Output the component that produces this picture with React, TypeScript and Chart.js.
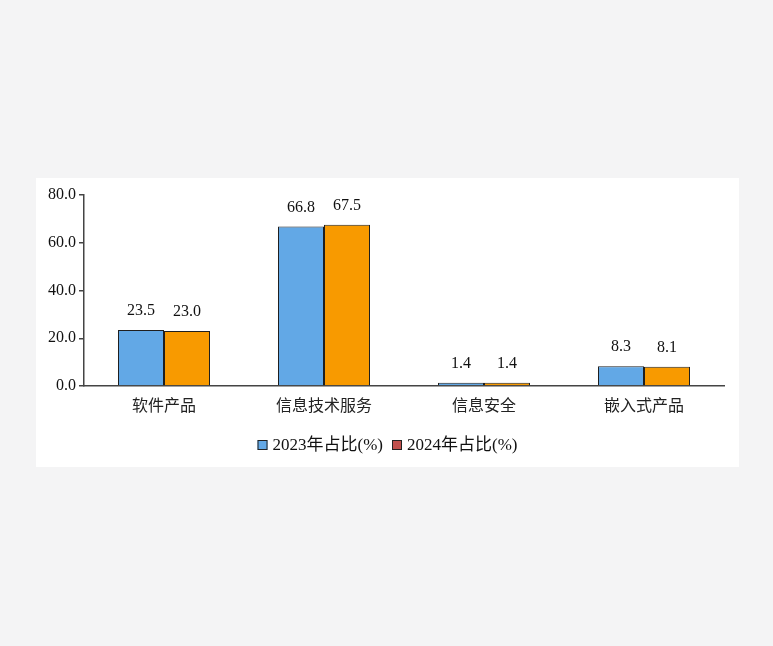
import React, { useEffect, useRef } from "react";
import { Chart, registerables } from "chart.js";

Chart.register(...registerables);

const categories = ["软件产品", "信息技术服务", "信息安全", "嵌入式产品"];
const series2023 = [23.5, 66.8, 1.4, 8.3];
const series2024 = [23.0, 67.5, 1.4, 8.1];
const seriesNames = ["2023年占比(%)", "2024年占比(%)"];
const yTicks = [0, 20, 40, 60, 80];

const BLUE = "#62a8e6";
const ORANGE = "#f89a00";
const LEGEND_RED = "#c0504d";
const SERIF = "'Liberation Serif', 'Noto Sans CJK SC', serif";
const CJK = "'Noto Sans CJK SC', sans-serif";

const valueLabels = {
  id: "valueLabels",
  afterDatasetsDraw(chart: any) {
    const ctx = chart.ctx;
    ctx.save();
    ctx.font = `16px ${SERIF}`;
    ctx.fillStyle = "#111";
    ctx.textAlign = "center";
    ctx.textBaseline = "middle";
    chart.data.datasets.forEach((ds: any, di: number) => {
      const meta = chart.getDatasetMeta(di);
      meta.data.forEach((bar: any, i: number) => {
        ctx.fillText(Number(ds.data[i]).toFixed(1), bar.x, bar.y - 19);
      });
    });
    ctx.restore();
  },
};

const customLegend = {
  id: "customLegend",
  afterDraw(chart: any) {
    const ctx = chart.ctx;
    ctx.save();
    ctx.font = `17px ${SERIF}`;
    ctx.textBaseline = "middle";
    ctx.textAlign = "left";
    const box = 10;
    const gap = 5;
    const itemGap = 9;
    const items = chart.data.datasets.map((ds: any) => ({
      label: ds.label,
      color: ds.legendColor,
      w: box + gap + ctx.measureText(ds.label).width,
    }));
    const total = items.reduce((s: number, it: any) => s + it.w, 0) + itemGap * (items.length - 1);
    let x = (chart.width - total) / 2;
    const y = chart.chartArea.bottom + 59;
    items.forEach((it: any) => {
      ctx.fillStyle = it.color;
      ctx.fillRect(x, y - box / 2, box, box);
      ctx.strokeStyle = "#222";
      ctx.lineWidth = 1;
      ctx.strokeRect(x + 0.5, y - box / 2 + 0.5, box - 1, box - 1);
      ctx.fillStyle = "#111";
      ctx.fillText(it.label, x + box + gap, y + 1);
      x += it.w + itemGap;
    });
    ctx.restore();
  },
};

export default function App() {
  const canvasRef = useRef<HTMLCanvasElement | null>(null);

  useEffect(() => {
    if (!canvasRef.current) return;
    const chart = new Chart(canvasRef.current, {
      type: "bar",
      data: {
        labels: categories,
        datasets: [
          {
            label: seriesNames[0],
            data: series2023,
            backgroundColor: BLUE,
            borderColor: "#1f1f1f",
            borderWidth: 1,
            legendColor: BLUE,
          } as any,
          {
            label: seriesNames[1],
            data: series2024,
            backgroundColor: ORANGE,
            borderColor: "#1f1f1f",
            borderWidth: 1,
            legendColor: LEGEND_RED,
          } as any,
        ],
      },
      options: {
        animation: false,
        responsive: false,
        maintainAspectRatio: false,
        datasets: { bar: { categoryPercentage: 0.575, barPercentage: 1 } },
        layout: { padding: { top: 17, right: 15, left: 0, bottom: 41 } },
        plugins: {
          legend: { display: false },
          tooltip: { enabled: false },
        },
        scales: {
          x: {
            grid: { display: true, drawOnChartArea: false, drawTicks: false },
            border: { display: true, color: "#444", width: 1.5 },
            ticks: {
              font: { family: CJK, size: 16 },
              color: "#222",
              padding: 9,
            },
            afterFit(scale: any) {
              scale.height = 40;
            },
          },
          y: {
            min: 0,
            max: 80,
            afterBuildTicks(scale: any) {
              scale.ticks = yTicks.map((v) => ({ value: v }));
            },
            grid: { display: true, drawOnChartArea: false, drawTicks: true, tickLength: 5, color: "#444", lineWidth: 1.5 },
            border: { display: true, color: "#444", width: 1.5 },
            ticks: {
              font: { family: SERIF, size: 16 },
              color: "#111",
              padding: 3,
              callback: (v: any) => Number(v).toFixed(1),
            },
            afterFit(scale: any) {
              scale.width = 48;
            },
          },
        },
      } as any,
      plugins: [valueLabels, customLegend],
    });
    return () => chart.destroy();
  }, []);

  return (
    <div style={{ position: "fixed", left: 0, top: 0, width: 773, height: 646, background: "#f4f4f5" }}>
      <div
        style={{
          position: "absolute",
          left: 36,
          top: 178,
          width: 703,
          height: 289,
          background: "#ffffff",
        }}
      >
        <canvas ref={canvasRef} width={703} height={289} style={{ width: 703, height: 289, display: "block" }} />
      </div>
    </div>
  );
}
